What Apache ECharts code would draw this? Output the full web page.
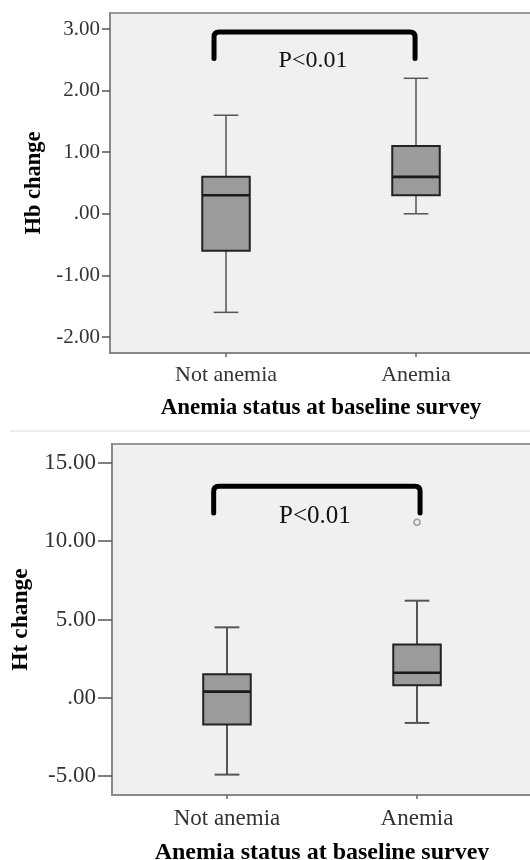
<!DOCTYPE html>
<html>
<head>
<meta charset="utf-8">
<script src="https://cdn.jsdelivr.net/npm/echarts@6/dist/echarts.min.js"></script>
<style>
html,body{margin:0;padding:0;background:#fff;}
#chart{width:530px;height:860px;}
</style>
</head>
<body>
<div id="chart"></div>
<script>
// ---- data ----
const categories = ['Not anemia', 'Anemia'];
// Hb change box statistics: [Not anemia, Anemia]
const hbMin    = [-1.6, 0.0];
const hbQ1     = [-0.6, 0.3];
const hbMedian = [0.3, 0.6];
const hbQ3     = [0.6, 1.1];
const hbMax    = [1.6, 2.2];
// Ht change box statistics
const htMin    = [-4.9, -1.6];
const htQ1     = [-1.7, 0.8];
const htMedian = [0.4, 1.6];
const htQ3     = [1.5, 3.4];
const htMax    = [4.5, 6.2];
const htOutliers = [[1, 11.2]];
// tick values
const hbTicks = [-2, -1, 0, 1, 2, 3];
const htTicks = [-5, 0, 5, 10, 15];
const catTicks = [0, 1];
// significance annotation: [leftX, rightX, topY, bottomY]
const hbBracket = [-0.063, 0.995, 2.95, 2.52];
const htBracket = [-0.07, 1.016, 13.5, 11.8];
const hbPText = [0.458, 2.48];
const htPText = [0.463, 11.6];
const pLabel = 'P<0.01';
const yNameHb = 'Hb change';
const yNameHt = 'Ht change';
const xName = 'Anemia status at baseline survey';

// ---- helpers ----
const FONT = 'Liberation Serif';
function fmt(v) {
  let s = Math.abs(v).toFixed(2);
  if (s.charAt(0) === '0') s = s.slice(1);
  return (v < 0 ? '-' : '') + s;
}
function boxRows(mn, q1, md, q3, mx) {
  return categories.map((c, i) => [i, mn[i], q1[i], md[i], q3[i], mx[i]]);
}
function makeBoxRender(whiskerW, whiskerColor) {
  return function (params, api) {
    const x = api.value(0);
    const pLo = api.coord([x, api.value(1)]);
    const pQ1 = api.coord([x, api.value(2)]);
    const pMd = api.coord([x, api.value(3)]);
    const pQ3 = api.coord([x, api.value(4)]);
    const pHi = api.coord([x, api.value(5)]);
    const unit = api.size([1, 0])[0];
    const bw = unit * 0.25;
    const cw = unit * 0.13;
    const cx = pMd[0];
    const wl = {stroke: whiskerColor, lineWidth: whiskerW};
    return {
      type: 'group',
      children: [
        {type: 'line', shape: {x1: cx, y1: pHi[1], x2: cx, y2: pQ3[1]}, style: wl},
        {type: 'line', shape: {x1: cx, y1: pQ1[1], x2: cx, y2: pLo[1]}, style: wl},
        {type: 'line', shape: {x1: cx - cw / 2, y1: pHi[1], x2: cx + cw / 2, y2: pHi[1]}, style: wl},
        {type: 'line', shape: {x1: cx - cw / 2, y1: pLo[1], x2: cx + cw / 2, y2: pLo[1]}, style: wl},
        {type: 'rect', shape: {x: cx - bw / 2, y: pQ3[1], width: bw, height: pQ1[1] - pQ3[1]},
          style: {fill: '#9b9b9b', stroke: '#222', lineWidth: 2}},
        {type: 'line', shape: {x1: cx - bw / 2, y1: pMd[1], x2: cx + bw / 2, y2: pMd[1]},
          style: {stroke: '#1a1a1a', lineWidth: 2.6}}
      ]
    };
  };
}
function makeBracketRender(fontSize) {
  return function (params, api) {
    const a = api.coord([api.value(0), api.value(2)]);
    const b = api.coord([api.value(1), api.value(2)]);
    const yb = api.coord([0, api.value(3)])[1];
    const t = api.coord([api.value(4), api.value(5)]);
    const r = 5;
    const d = 'M' + a[0] + ' ' + yb + ' L' + a[0] + ' ' + (a[1] + r) +
      ' Q' + a[0] + ' ' + a[1] + ' ' + (a[0] + r) + ' ' + a[1] +
      ' L' + (b[0] - r) + ' ' + b[1] +
      ' Q' + b[0] + ' ' + b[1] + ' ' + b[0] + ' ' + (b[1] + r) +
      ' L' + b[0] + ' ' + yb;
    return {
      type: 'group',
      children: [
        {type: 'path', shape: {pathData: d}, style: {fill: null, stroke: '#000', lineWidth: 5, lineCap: 'round', lineJoin: 'round'}},
        {type: 'text', x: t[0], y: t[1], style: {text: pLabel, fill: '#111', font: fontSize + 'px "' + FONT + '"', align: 'center', verticalAlign: 'middle'}}
      ]
    };
  };
}
function xAxisCfg(idx, min, max, fontSize, nameSize, margin, nameGap) {
  return {
    type: 'value', gridIndex: idx, min: min, max: max,
    name: xName, nameLocation: 'middle', nameGap: nameGap,
    nameTextStyle: {fontFamily: FONT, fontWeight: 'bold', fontSize: nameSize, color: '#000'},
    axisLine: {show: true, onZero: false, lineStyle: {color: '#888', width: 2}},
    axisTick: {show: true, customValues: catTicks, length: 4, lineStyle: {color: '#666', width: 1.5}},
    axisLabel: {customValues: catTicks, margin: margin, fontFamily: FONT, fontSize: fontSize, color: '#333',
      formatter: v => categories[Math.round(v)] || ''},
    splitLine: {show: false}
  };
}
function yAxisCfg(idx, min, max, ticks, name, fontSize, tickLen, margin, nameGap, nameSize) {
  return {
    type: 'value', gridIndex: idx, min: min, max: max,
    name: name, nameLocation: 'middle', nameGap: nameGap, nameRotate: 90,
    nameTextStyle: {fontFamily: FONT, fontWeight: 'bold', fontSize: nameSize, color: '#000'},
    axisLine: {show: true, onZero: false, lineStyle: {color: '#888', width: 2}},
    axisTick: {show: true, customValues: ticks, length: tickLen, lineStyle: {color: '#555', width: 1.5}},
    axisLabel: {customValues: ticks, margin: margin, fontFamily: FONT, fontSize: fontSize, color: '#333', formatter: fmt},
    splitLine: {show: false}
  };
}

const chart = echarts.init(document.getElementById('chart'), null, {renderer: 'canvas'});
chart.setOption({
  backgroundColor: '#fff',
  animation: false,
  graphic: [
    {type: 'line', shape: {x1: 10, y1: 431, x2: 530, y2: 431}, style: {stroke: '#dcdcdc', lineWidth: 1}, z: -1}
  ],
  grid: [
    {left: 110, right: -2, top: 13, height: 340, show: true, outerBoundsMode: 'none', containLabel: false,
      backgroundColor: '#f0f0f0', borderColor: '#999', borderWidth: 2},
    {left: 112, right: -2, top: 444, height: 351, show: true, outerBoundsMode: 'none', containLabel: false,
      backgroundColor: '#f0f0f0', borderColor: '#999', borderWidth: 2}
  ],
  xAxis: [
    xAxisCfg(0, -0.6105, 1.6105, 22, 23, 11, 44),
    xAxisCfg(1, -0.605, 1.605, 23, 24, 12, 46)
  ],
  yAxis: [
    yAxisCfg(0, -2.26, 3.26, hbTicks, yNameHb, 21, 8, 10, 62, 22.5),
    yAxisCfg(1, -6.2, 16.2, htTicks, yNameHt, 23, 14, 16, 75, 23.5)
  ],
  series: [
    {type: 'custom', xAxisIndex: 0, yAxisIndex: 0, renderItem: makeBoxRender(1.5, '#555'),
      data: boxRows(hbMin, hbQ1, hbMedian, hbQ3, hbMax), encode: {x: 0, y: [1, 2, 3, 4, 5]}},
    {type: 'custom', xAxisIndex: 1, yAxisIndex: 1, renderItem: makeBoxRender(2, '#555'),
      data: boxRows(htMin, htQ1, htMedian, htQ3, htMax), encode: {x: 0, y: [1, 2, 3, 4, 5]}},
    {type: 'scatter', xAxisIndex: 1, yAxisIndex: 1, data: htOutliers, symbol: 'circle', symbolSize: 6,
      itemStyle: {color: '#f0f0f0', borderColor: '#888', borderWidth: 1.5}},
    {type: 'custom', xAxisIndex: 0, yAxisIndex: 0, renderItem: makeBracketRender(24),
      data: [[hbBracket[0], hbBracket[1], hbBracket[2], hbBracket[3], hbPText[0], hbPText[1]]],
      encode: {x: [0, 1], y: [2, 3]}},
    {type: 'custom', xAxisIndex: 1, yAxisIndex: 1, renderItem: makeBracketRender(25),
      data: [[htBracket[0], htBracket[1], htBracket[2], htBracket[3], htPText[0], htPText[1]]],
      encode: {x: [0, 1], y: [2, 3]}}
  ]
});
</script>
</body>
</html>
